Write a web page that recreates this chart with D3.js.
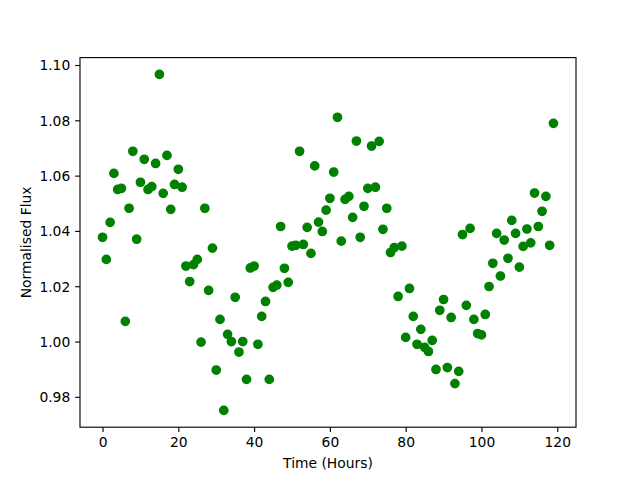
<!DOCTYPE html>
<html>
<head>
<meta charset="utf-8">
<script src="https://cdn.jsdelivr.net/npm/d3@7"></script>
<style>
  html, body { margin: 0; padding: 0; background: #fff; }
  svg { display: block; }
  text { font-family: "DejaVu Sans", sans-serif; }
</style>
</head>
<body>
<script>
// Time in hours
const timeHours = [
  0,1,2,3,4,5,6,7,8,9,10,11,12,13,14,15,16,17,18,19,
  20,21,22,23,24,25,26,27,28,29,30,31,32,33,34,35,36,37,38,39,
  40,41,42,43,44,45,46,47,48,49,50,51,52,53,54,55,56,57,58,59,
  60,61,62,63,64,65,66,67,68,69,70,71,72,73,74,75,76,77,78,79,
  80,81,82,83,84,85,86,87,88,89,90,91,92,93,94,95,96,97,98,99,
  100,101,102,103,104,105,106,107,108,109,110,111,112,113,114,115,116,117,118,119
];
// Normalised flux
const normalisedFlux = [
  1.0377,1.0297,1.0431,1.0608,1.0550,1.0554,1.0073,1.0482,1.0688,1.0370,
  1.0576,1.0659,1.0550,1.0560,1.0644,1.0966,1.0536,1.0673,1.0478,1.0568,
  1.0623,1.0558,1.0273,1.0217,1.0278,1.0297,0.9998,1.0482,1.0185,1.0338,
  0.9897,1.0080,0.9751,1.0026,1.0000,1.0160,0.9962,1.0000,0.9863,1.0266,
  1.0273,0.9990,1.0091,1.0145,0.9863,1.0196,1.0204,1.0416,1.0265,1.0214,
  1.0345,1.0348,1.0688,1.0351,1.0413,1.0319,1.0635,1.0432,1.0398,1.0475,
  1.0518,1.0613,1.0811,1.0363,1.0514,1.0525,1.0449,1.0725,1.0377,1.0489,
  1.0554,1.0707,1.0558,1.0724,1.0406,1.0482,1.0322,1.0340,1.0163,1.0345,
  1.0015,1.0192,1.0091,0.9990,1.0044,0.9979,0.9964,1.0004,0.9899,1.0113,
  1.0152,0.9906,1.0087,0.9848,0.9892,1.0387,1.0131,1.0409,1.0080,1.0029,
  1.0024,1.0098,1.0199,1.0283,1.0391,1.0237,1.0367,1.0301,1.0438,1.0391,
  1.0269,1.0344,1.0407,1.0357,1.0537,1.0416,1.0471,1.0525,1.0348,1.0789
];
const xTicks = [0, 20, 40, 60, 80, 100, 120];
const yTicks = [0.98, 1.00, 1.02, 1.04, 1.06, 1.08, 1.10];
const xLabel = "Time (Hours)";
const yLabel = "Normalised Flux";

(function () {
const W = 640, H = 480;
const mLeft = 80, mRight = 576, mTop = 57.6, mBottom = 427.2;
const pt = 100 / 72;

function padded(ext) {
  const m = (ext[1] - ext[0]) * 0.05;
  return [ext[0] - m, ext[1] + m];
}

const x = d3.scaleLinear().domain(padded(d3.extent(timeHours))).range([mLeft, mRight]);
const y = d3.scaleLinear().domain(padded(d3.extent(normalisedFlux))).range([mBottom, mTop]);

const svg = d3.select("body").append("svg").attr("width", W).attr("height", H);
svg.append("rect").attr("width", W).attr("height", H).attr("fill", "#fff");

const fs = 10 * pt;

// Points
const data = timeHours.map((t, i) => ({ t, f: normalisedFlux[i] }));
svg.append("g").selectAll("circle").data(data).join("circle")
  .attr("cx", d => x(d.t))
  .attr("cy", d => y(d.f))
  .attr("r", 3 * pt)
  .attr("fill", "#008000")
  .attr("stroke", "#008000")
  .attr("stroke-width", 1 * pt);

// Axes
const xAxis = d3.axisBottom(x).tickValues(xTicks).tickFormat(d3.format("d"))
  .tickSize(3.5 * pt).tickPadding(3.5 * pt);
const yAxis = d3.axisLeft(y).tickValues(yTicks).tickFormat(d3.format(".2f"))
  .tickSize(3.5 * pt).tickPadding(3.5 * pt);

const gx = svg.append("g").attr("transform", `translate(0,${mBottom})`).call(xAxis);
const gy = svg.append("g").attr("transform", `translate(${mLeft},0)`).call(yAxis);
[gx, gy].forEach(g => {
  g.select(".domain").remove();
  g.selectAll(".tick line").attr("stroke", "#000").attr("stroke-width", 0.8 * pt);
  g.selectAll(".tick text").attr("fill", "#000").style("font-size", fs + "px")
    .style("font-family", "'DejaVu Sans', sans-serif");
});
gy.selectAll(".tick text").attr("dy", "0.36em");

// Frame
svg.append("rect")
  .attr("x", mLeft).attr("y", mTop)
  .attr("width", mRight - mLeft).attr("height", mBottom - mTop)
  .attr("fill", "none").attr("stroke", "#000").attr("stroke-width", 0.8 * pt);

// Labels
svg.append("text").attr("x", (mLeft + mRight) / 2).attr("y", 468)
  .attr("text-anchor", "middle").style("font-size", fs + "px").text(xLabel);
svg.append("text")
  .attr("transform", `translate(31,${(mTop + mBottom) / 2}) rotate(-90)`)
  .attr("text-anchor", "middle").style("font-size", fs + "px").text(yLabel);
})();
</script>
</body>
</html>
